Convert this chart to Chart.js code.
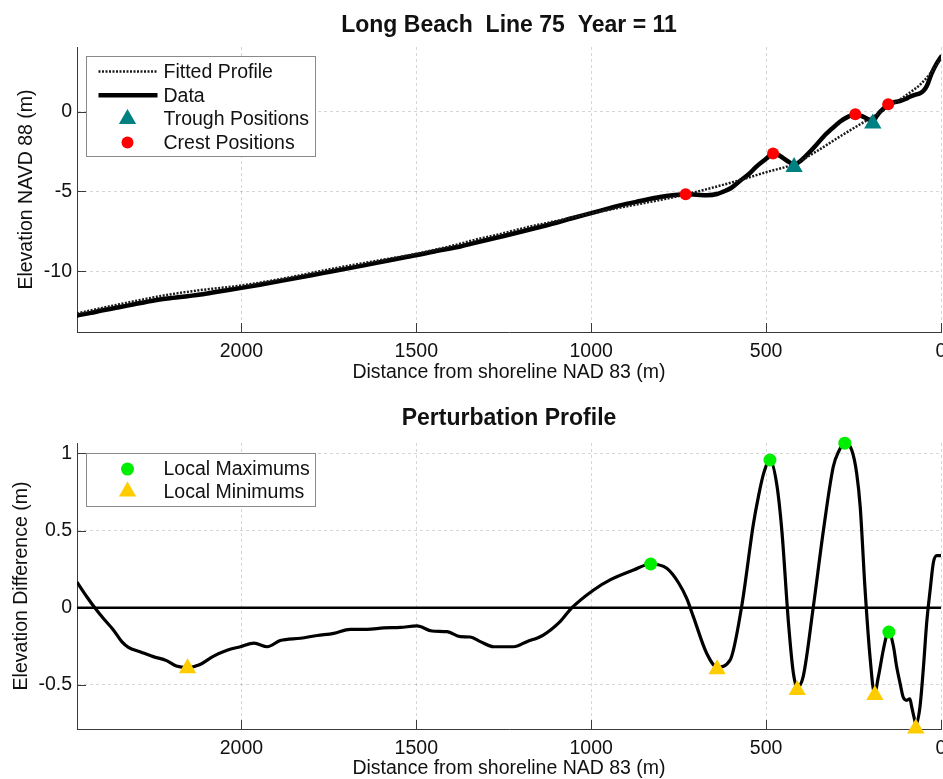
<!DOCTYPE html>
<html>
<head>
<meta charset="utf-8">
<title>Long Beach Line 75 Year 11</title>
<script src="https://cdn.jsdelivr.net/npm/chart.js@4.4.1/dist/chart.umd.min.js"></script>
<style>
  html, body { margin: 0; padding: 0; background: #ffffff; width: 943px; height: 779px; overflow: hidden; }
  .panel { position: absolute; left: 0; }
  #panelTop { top: 0; }
  #panelBottom { top: 390px; }
  canvas { display: block; }
</style>
</head>
<body>
<div class="panel" id="panelTop"><canvas id="profileChart" width="943" height="390"></canvas></div>
<div class="panel" id="panelBottom"><canvas id="perturbChart" width="943" height="392"></canvas></div>
<script>
// ---- Cross-shore profile (distance from shoreline, m; elevation NAVD 88, m) ----
const dataDist = [2470, 2430, 2400, 2350, 2307, 2250, 2212, 2150, 2117, 2060, 2000, 1940, 1879, 1800, 1736,
  1650, 1580, 1498, 1440, 1374, 1317, 1250, 1184, 1100, 1055, 1000, 950, 900, 860, 803, 760, 730, 700,
  669, 640, 622, 600, 574, 550, 527, 500, 480, 465, 450, 435, 420, 400, 384, 360, 336, 310, 289, 265,
  245, 228, 212, 195, 185, 174, 160, 151, 135, 117, 100, 89, 75, 60, 50, 41, 27, 12, 0];
const dataElev = [-12.78, -12.62, -12.47, -12.27, -12.08, -11.84, -11.72, -11.56, -11.47, -11.26, -11.05,
  -10.82, -10.58, -10.26, -9.99, -9.64, -9.33, -8.99, -8.72, -8.45, -8.14, -7.79, -7.43, -6.96, -6.68,
  -6.36, -6.06, -5.78, -5.60, -5.35, -5.22, -5.18, -5.20, -5.23, -5.16, -5.01, -4.78, -4.32, -3.92,
  -3.42, -2.95, -2.61, -2.70, -2.92, -3.14, -3.32, -3.05, -2.72, -2.16, -1.56, -1.02, -0.62, -0.30,
  -0.15, -0.26, -0.42, -0.60, -0.30, 0.00, 0.30, 0.48, 0.60, 0.68, 0.82, 0.95, 1.06, 1.17, 1.32, 1.60,
  2.40, 3.05, 3.45];

const fitDist = [2470, 2400, 2307, 2212, 2117, 2000, 1879, 1736, 1600, 1498, 1400, 1317, 1266, 1184, 1100,
  1000, 900, 803, 729, 650, 574, 500, 420, 350, 289, 231, 193, 136, 98, 60, 31, 0];
const fitElev = [-12.65, -12.32, -11.89, -11.49, -11.19, -10.90, -10.46, -9.83, -9.30, -8.90, -8.42, -7.95,
  -7.70, -7.25, -6.85, -6.37, -5.94, -5.53, -5.18, -4.74, -4.28, -3.79, -3.27, -2.40, -1.55, -0.78, -0.29,
  0.50, 1.07, 1.70, 2.40, 3.35];

const crestDist = [730, 480, 245, 151];
const crestElev = [-5.18, -2.61, -0.15, 0.48];
const troughDist = [420, 195];
const troughElev = [-3.47, -0.73];

// ---- Perturbation (data minus fitted profile, m) ----
const pertDist = [2470, 2442, 2418, 2395, 2366, 2342, 2323, 2290, 2252, 2214, 2186, 2153, 2120, 2082, 2041,
  2003, 1964, 1926, 1889, 1831, 1783, 1736, 1689, 1641, 1593, 1546, 1498, 1455, 1412, 1374, 1346, 1317,
  1279, 1222, 1184, 1137, 1089, 1055, 993, 946, 879, 830, 784, 750, 727, 708, 670, 640, 603, 570, 536,
  522, 507, 489, 470, 455, 436, 422, 411, 394, 365, 336, 308, 293, 275, 255, 241, 231, 217, 203, 190,
  179, 165, 155, 149, 136, 127, 117, 108, 98, 89, 84, 76, 71, 60, 50, 41, 31, 22, 12, 0];
const pertVal = [0.165, 0.071, -0.004, -0.069, -0.144, -0.220, -0.257, -0.285, -0.317, -0.343, -0.378,
  -0.388, -0.370, -0.317, -0.276, -0.253, -0.230, -0.253, -0.213, -0.198, -0.180, -0.166, -0.140, -0.140,
  -0.131, -0.128, -0.118, -0.151, -0.155, -0.188, -0.190, -0.220, -0.253, -0.253, -0.220, -0.177, -0.090,
  0.000, 0.115, 0.180, 0.244, 0.283, 0.255, 0.160, 0.060, -0.058, -0.295, -0.385, -0.340, 0.006, 0.547,
  0.720, 0.870, 0.957, 0.806, 0.500, -0.100, -0.425, -0.515, -0.447, 0.006, 0.503, 0.913, 1.010, 1.066,
  1.020, 0.870, 0.654, 0.115, -0.317, -0.555, -0.447, -0.274, -0.177, -0.157, -0.250, -0.380, -0.490,
  -0.580, -0.600, -0.590, -0.640, -0.720, -0.755, -0.640, -0.380, -0.100, 0.115, 0.290, 0.337, 0.337];

const maxDist = [830, 489, 275, 149];
const maxVal = [0.283, 0.957, 1.066, -0.158];
const minDist = [2154, 640, 411, 189, 72];
const minVal = [-0.393, -0.399, -0.534, -0.565, -0.783];

const baseDist = [0, 2470];
const baseVal = [0, 0];

// ---- Axis ticks ----
const distTicks = [0, 500, 1000, 1500, 2000];
const elevTicks = [-10, -5, 0];
const pertTicks = [-0.5, 0, 0.5, 1];

// ---- Legend entries, in display order ----
const profileLegend = ['Fitted Profile', 'Data', 'Trough Positions', 'Crest Positions'];
const pertLegend = ['Local Maximums', 'Local Minimums'];

const FONT = "'Liberation Sans', Arial, Helvetica, sans-serif";
const INK = '#111111';
const AXIS = '#3a3a3a';

const pts = (xs, ys) => xs.map((x, i) => ({ x: x, y: ys[i] }));

function drawMarker(ctx, style, x, y, r, color) {
  ctx.save();
  ctx.fillStyle = color;
  ctx.beginPath();
  if (style === 'triangle') {
    let rad = 0;
    ctx.moveTo(x + Math.sin(rad) * r, y - Math.cos(rad) * r);
    rad += 2 * Math.PI / 3;
    ctx.lineTo(x + Math.sin(rad) * r, y - Math.cos(rad) * r);
    rad += 2 * Math.PI / 3;
    ctx.lineTo(x + Math.sin(rad) * r, y - Math.cos(rad) * r);
    ctx.closePath();
  } else {
    ctx.arc(x, y, r, 0, Math.PI * 2);
  }
  ctx.fill();
  ctx.restore();
}

// Boxed legend inside the upper-left corner of the plot area
const boxLegend = {
  id: 'boxLegend',
  afterDraw(chart, args, o) {
    const { ctx, chartArea } = chart;
    const x0 = Math.round(chartArea.left + o.offsetX) + 0.5;
    const y0 = Math.round(chartArea.top + o.offsetY) + 0.5;
    ctx.save();
    ctx.fillStyle = '#ffffff';
    ctx.fillRect(x0, y0, o.width, o.height);
    ctx.strokeStyle = '#8a8a8a';
    ctx.lineWidth = 1;
    ctx.strokeRect(x0, y0, o.width, o.height);
    ctx.font = o.fontSize + 'px ' + FONT;
    ctx.textBaseline = 'middle';
    ctx.textAlign = 'left';
    o.labels.forEach((label, i) => {
      const ds = chart.data.datasets.find(d => d.label === label);
      const cy = y0 + o.firstRow + i * o.rowGap;
      if (ds.showLine === false) {
        drawMarker(ctx, ds.pointStyle, x0 + o.markerX, cy, ds.pointRadius, ds.backgroundColor);
      } else {
        ctx.save();
        ctx.strokeStyle = ds.borderColor;
        ctx.lineWidth = ds.borderWidth;
        ctx.setLineDash(ds.borderDash || []);
        ctx.beginPath();
        ctx.moveTo(x0 + o.lineStart, cy);
        ctx.lineTo(x0 + o.lineEnd, cy);
        ctx.stroke();
        ctx.restore();
      }
      ctx.fillStyle = INK;
      ctx.fillText(label, x0 + o.textX, cy + 1);
    });
    ctx.restore();
  }
};

// Tick marks pointing into the plot area
const innerTicks = {
  id: 'innerTicks',
  beforeDatasetsDraw(chart, args, o) {
    const { ctx, chartArea, scales } = chart;
    ctx.save();
    ctx.strokeStyle = AXIS;
    ctx.lineWidth = 1;
    ctx.beginPath();
    scales.x.ticks.forEach(t => {
      const px = Math.round(scales.x.getPixelForValue(t.value)) + 0.5;
      ctx.moveTo(px, chartArea.bottom);
      ctx.lineTo(px, chartArea.bottom - o.length);
    });
    scales.y.ticks.forEach(t => {
      const py = Math.round(scales.y.getPixelForValue(t.value)) + 0.5;
      ctx.moveTo(chartArea.left, py);
      ctx.lineTo(chartArea.left + o.length, py);
    });
    ctx.stroke();
    ctx.restore();
  }
};

function distanceScale(axisHeight, titlePadBottom) {
  return {
    type: 'linear',
    position: 'bottom',
    reverse: true,
    min: 0,
    max: 2470,
    afterBuildTicks: s => { s.ticks = distTicks.map(v => ({ value: v })); },
    afterFit: s => { s.height = axisHeight; s.paddingLeft = 0; s.paddingRight = 0; },
    ticks: {
      autoSkip: false, maxRotation: 0, padding: 8, color: INK,
      font: { family: FONT, size: 19.5 },
      callback: v => String(v)
    },
    grid: { color: 'rgba(0,0,0,0.16)', lineWidth: 1, drawTicks: false },
    border: { display: true, color: AXIS, width: 1, dash: [3, 3] },
    title: {
      display: true, text: 'Distance from shoreline NAD 83 (m)', color: INK,
      font: { family: FONT, size: 19.5 }, padding: { top: 0, bottom: titlePadBottom }
    }
  };
}

function valueScale(min, max, tickList, label, titlePadTop) {
  return {
    type: 'linear',
    position: 'left',
    min: min,
    max: max,
    afterBuildTicks: s => { s.ticks = tickList.map(v => ({ value: v })); },
    afterFit: s => { s.width = 77; s.paddingTop = 0; s.paddingBottom = 0; },
    ticks: {
      autoSkip: false, padding: 5, color: INK,
      font: { family: FONT, size: 19.5 },
      callback: v => String(v)
    },
    grid: { color: 'rgba(0,0,0,0.16)', lineWidth: 1, drawTicks: false },
    border: { display: true, color: AXIS, width: 1, dash: [3, 3] },
    title: {
      display: true, text: label, color: INK,
      font: { family: FONT, size: 19.5 }, padding: { top: titlePadTop, bottom: 0 }
    }
  };
}

function titleOptions(text, padTop, padBottom) {
  return {
    display: true, text: text, color: INK, fullSize: false,
    font: { family: FONT, size: 23, weight: 'bold' },
    padding: { top: padTop, bottom: padBottom }
  };
}

// ---------------- Upper panel: measured and fitted profile ----------------
new Chart(document.getElementById('profileChart'), {
  type: 'line',
  data: {
    datasets: [
      { label: 'Trough Positions', data: pts(troughDist, troughElev), showLine: false,
        pointStyle: 'triangle', pointRadius: 10, backgroundColor: '#008080', borderColor: '#008080',
        pointBorderWidth: 0, clip: false, order: 0 },
      { label: 'Crest Positions', data: pts(crestDist, crestElev), showLine: false,
        pointStyle: 'circle', pointRadius: 6, backgroundColor: '#ff0000', borderColor: '#ff0000',
        pointBorderWidth: 0, clip: false, order: 1 },
      { label: 'Fitted Profile', data: pts(fitDist, fitElev), borderColor: '#1a1a1a', borderWidth: 2.5,
        borderDash: [2, 1.5], pointRadius: 0, cubicInterpolationMode: 'monotone', order: 2 },
      { label: 'Data', data: pts(dataDist, dataElev), borderColor: '#000000', borderWidth: 4.5,
        pointRadius: 0, cubicInterpolationMode: 'monotone', borderCapStyle: 'round',
        borderJoinStyle: 'round', order: 3 }
    ]
  },
  options: {
    responsive: false,
    animation: false,
    events: [],
    layout: { autoPadding: false, padding: { left: 0, right: 2, top: 0, bottom: 0 } },
    scales: {
      x: distanceScale(58, 5.3),
      y: valueScale(-13.82, 4.07, elevTicks, 'Elevation NAVD 88 (m)', 15)
    },
    plugins: {
      legend: { display: false },
      tooltip: { enabled: false },
      title: titleOptions('Long Beach  Line 75  Year = 11', 11.5, 7.9),
      innerTicks: { length: 9 },
      boxLegend: {
        labels: profileLegend, offsetX: 9, offsetY: 9, width: 229, height: 100,
        firstRow: 15, rowGap: 23.7, lineStart: 12, lineEnd: 71, markerX: 41, textX: 77, fontSize: 19.5
      }
    }
  },
  plugins: [innerTicks, boxLegend]
});

// ---------------- Lower panel: perturbation profile ----------------
new Chart(document.getElementById('perturbChart'), {
  type: 'line',
  data: {
    datasets: [
      { label: 'Local Maximums', data: pts(maxDist, maxVal), showLine: false,
        pointStyle: 'circle', pointRadius: 6.5, backgroundColor: '#00ee00', borderColor: '#00ee00',
        pointBorderWidth: 0, clip: false, order: 0 },
      { label: 'Local Minimums', data: pts(minDist, minVal), showLine: false,
        pointStyle: 'triangle', pointRadius: 10, backgroundColor: '#ffcc00', borderColor: '#ffcc00',
        pointBorderWidth: 0, clip: false, order: 1 },
      { label: 'Perturbation', data: pts(pertDist, pertVal), borderColor: '#000000', borderWidth: 3.2,
        pointRadius: 0, cubicInterpolationMode: 'monotone', borderJoinStyle: 'round', order: 2 },
      { label: 'Zero', data: pts(baseDist, baseVal), borderColor: '#000000', borderWidth: 2.5,
        pointRadius: 0, order: 3 }
    ]
  },
  options: {
    responsive: false,
    animation: false,
    events: [],
    layout: { autoPadding: false, padding: { left: 0, right: 2, top: 0, bottom: 0 } },
    scales: {
      x: distanceScale(53, 1.6),
      y: valueScale(-0.786, 1.067, pertTicks, 'Elevation Difference (m)', 9.5)
    },
    plugins: {
      legend: { display: false },
      tooltip: { enabled: false },
      title: titleOptions('Perturbation Profile', 15.2, 10.2),
      innerTicks: { length: 9 },
      boxLegend: {
        labels: pertLegend, offsetX: 9, offsetY: 9.7, width: 229, height: 53,
        firstRow: 15.6, rowGap: 22.4, lineStart: 12, lineEnd: 71, markerX: 41, textX: 77, fontSize: 19.5
      }
    }
  },
  plugins: [innerTicks, boxLegend]
});
</script>
</body>
</html>
